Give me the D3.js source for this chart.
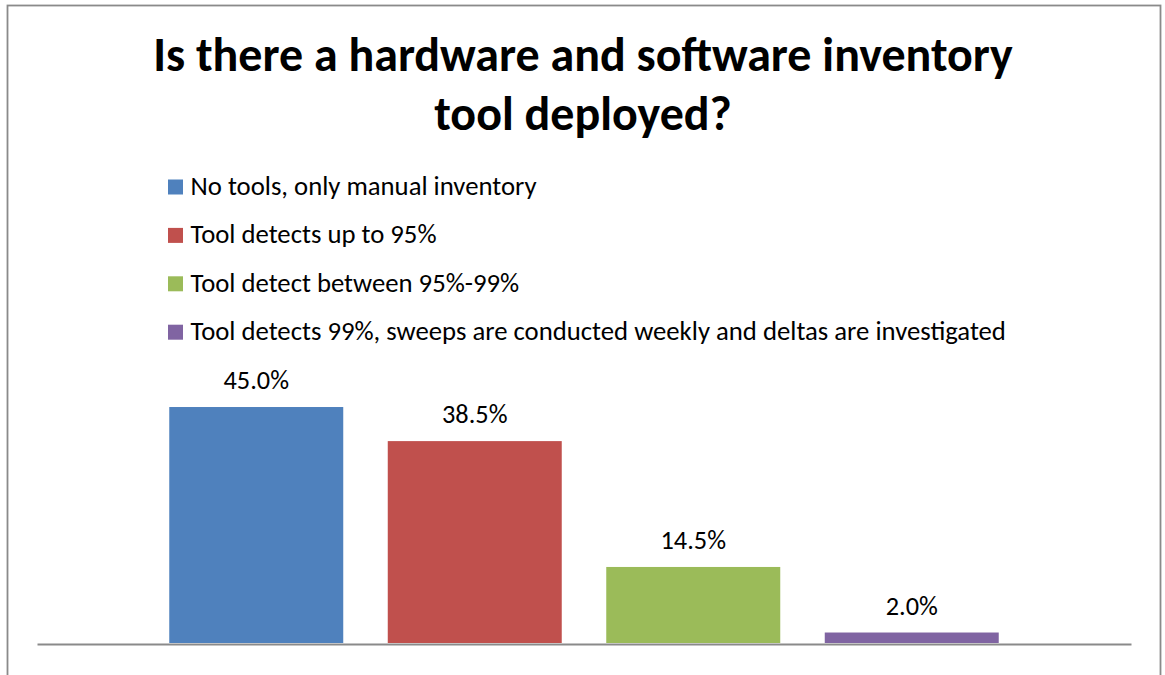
<!DOCTYPE html>
<html>
<head>
<meta charset="utf-8">
<script src="https://cdn.jsdelivr.net/npm/d3@7"></script>
<style>
  html, body { margin: 0; padding: 0; background: #fff; }
  svg { display: block; }
  text { font-family: Carlito, Calibri, Lato, "Open Sans", sans-serif; fill: #000; }
</style>
</head>
<body>
<svg id="chart" width="1165" height="675"></svg>
<script>
// Survey answers, one series per answer
const titleLines = ["Is there a hardware and software inventory", "tool deployed?"];
const seriesNames = [
  "No tools, only manual inventory",
  "Tool detects up to 95%",
  "Tool detect between 95%-99%",
  "Tool detects 99%, sweeps are conducted weekly and deltas are investigated"
];
const seriesValues = [45.0, 38.5, 14.5, 2.0];
const seriesColors = ["#4F81BD", "#C0504D", "#9BBB59", "#8064A2"];
const category = ["All respondents"];

const svg = d3.select("#chart");

// Chart frame
svg.append("rect")
  .attr("x", 7.5).attr("y", 5.5)
  .attr("width", 1153).attr("height", 720)
  .attr("fill", "#fff")
  .attr("stroke", "#8a8a8a")
  .attr("stroke-width", 1.8);

// Pick a font size so a sample string spans the given width
function sizeFor(sample, weight, width) {
  const t = svg.append("text").attr("font-size", 100).attr("font-weight", weight).text(sample);
  const w = t.node().getComputedTextLength();
  t.remove();
  return 100 * width / w;
}

// Title
const titleSize = sizeFor(titleLines[0], "bold", 860);
svg.append("g").selectAll("text")
  .data(titleLines)
  .join("text")
  .attr("x", 583)
  .attr("y", (d, i) => 71 + i * 59)
  .attr("text-anchor", "middle")
  .attr("font-weight", "bold")
  .attr("font-size", titleSize)
  .text(d => d);

// Legend
const legendSize = sizeFor(seriesNames[3], "normal", 816);
const legend = svg.append("g").selectAll("g")
  .data(seriesNames)
  .join("g")
  .attr("transform", (d, i) => `translate(168, ${195 + i * 48.4})`);
legend.append("rect")
  .attr("x", 0).attr("y", -15.5)
  .attr("width", 15).attr("height", 15)
  .attr("fill", (d, i) => seriesColors[i]);
legend.append("text")
  .attr("x", 22.5).attr("y", 0)
  .attr("font-size", legendSize)
  .text(d => d);

// Scales: one category, four clustered bars
const x0 = d3.scaleBand().domain(category).range([37, 1131]).padding(0);
const x1 = d3.scaleBand()
  .domain(seriesNames)
  .range([x0(category[0]), x0(category[0]) + x0.bandwidth()])
  .paddingInner(0.2037)
  .paddingOuter(0.6053);
const y = d3.scaleLinear().domain([0, 50]).range([643, 643 - 262.2]);

const bars = svg.append("g").selectAll("rect")
  .data(seriesValues)
  .join("rect")
  .attr("x", (d, i) => x1(seriesNames[i]))
  .attr("width", x1.bandwidth())
  .attr("y", d => y(d))
  .attr("height", d => y(0) - y(d))
  .attr("fill", (d, i) => seriesColors[i]);

// Value labels
const labelSize = sizeFor("45.0%", "normal", 65.5);
svg.append("g").selectAll("text")
  .data(seriesValues)
  .join("text")
  .attr("x", (d, i) => x1(seriesNames[i]) + x1.bandwidth() / 2)
  .attr("y", d => y(d) - 18)
  .attr("text-anchor", "middle")
  .attr("font-size", labelSize)
  .text(d => d3.format(".1f")(d) + "%");

// Category axis line
const xAxis = d3.axisBottom(x0).tickSize(0).tickFormat("");
const axisG = svg.append("g")
  .attr("transform", `translate(0, ${y(0) + 1})`)
  .call(xAxis);
axisG.select(".domain").attr("stroke", "#8a8a8a").attr("stroke-width", 2);
</script>
</body>
</html>
